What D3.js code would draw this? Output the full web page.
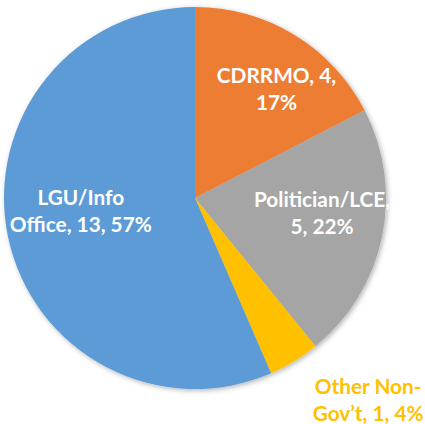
<!DOCTYPE html>
<html>
<head>
<meta charset="utf-8">
<script src="https://cdn.jsdelivr.net/npm/d3@7"></script>
<style>
  html, body { margin: 0; padding: 0; background: #fff; }
  svg { display: block; }
  text { font-family: Lato, "Open Sans", sans-serif; font-weight: bold; }
</style>
</head>
<body>
<svg id="chart" width="425" height="424"></svg>
<script>
// ---- data ----
const categories = ["CDRRMO", "Politician/LCE", "Other Non-Gov't", "LGU/Info Office"];
const counts = [4, 5, 1, 13];
const percentLabels = ["17%", "22%", "4%", "57%"];
const labelLines = [
  ["CDRRMO, 4,", "17%"],
  ["Politician/LCE,", "5, 22%"],
  ["Other Non-", "Gov\u2019t, 1, 4%"],
  ["LGU/Info", "Office, 13, 57%"]
];
const colors = ["#ED7D31", "#A5A5A5", "#FFC000", "#5B9BD5"];

// ---- layout ----
const W = 425, H = 424;
const cx = 195, cy = 198, R = 191;
// polar placement of labels relative to slice mid-angle (radius px, angle nudge deg)
const labelPlace = [
  { r: 136, da: 5.5 },
  { r: 128, da: -4.7 },
  { r: 266, da: -9.3 },
  { r: 115, da: 5 }
];
const labelFill = ["#ffffff", "#ffffff", "#FFC000", "#ffffff"];
const fontSize = 20.8, lineH = 27;

const svg = d3.select("#chart");
const defs = svg.append("defs");
const f = defs.append("filter").attr("id", "shadow")
  .attr("x", "-10%").attr("y", "-10%").attr("width", "120%").attr("height", "120%");
f.append("feDropShadow").attr("dx", 1.5).attr("dy", 1.5)
  .attr("stdDeviation", 2.5).attr("flood-color", "#000").attr("flood-opacity", 0.3);

const data = categories.map((c, i) => ({ cat: c, value: counts[i], i }));
const pie = d3.pie().value(d => d.value).sort(null);
const arcs = pie(data);
const arc = d3.arc().innerRadius(0).outerRadius(R);

const g = svg.append("g").attr("transform", `translate(${cx},${cy})`);
g.append("g").attr("filter", "url(#shadow)")
  .selectAll("path").data(arcs).join("path")
  .attr("d", arc)
  .attr("fill", d => colors[d.data.i]);

const lg = g.append("g");
arcs.forEach((a, k) => {
  const p = labelPlace[k];
  const mid = (a.startAngle + a.endAngle) / 2 + p.da * Math.PI / 180;
  const x = p.r * Math.sin(mid);
  const y = -p.r * Math.cos(mid);
  const lines = labelLines[k];
  const t = lg.append("text")
    .attr("text-anchor", "middle")
    .attr("font-size", fontSize)
    .attr("fill", labelFill[k]);
  lines.forEach((ln, j) => {
    t.append("tspan")
      .attr("x", x)
      .attr("y", y + (j - (lines.length - 1) / 2) * lineH)
      .attr("dy", "0.35em")
      .text(ln);
  });
});
</script>
</body>
</html>
